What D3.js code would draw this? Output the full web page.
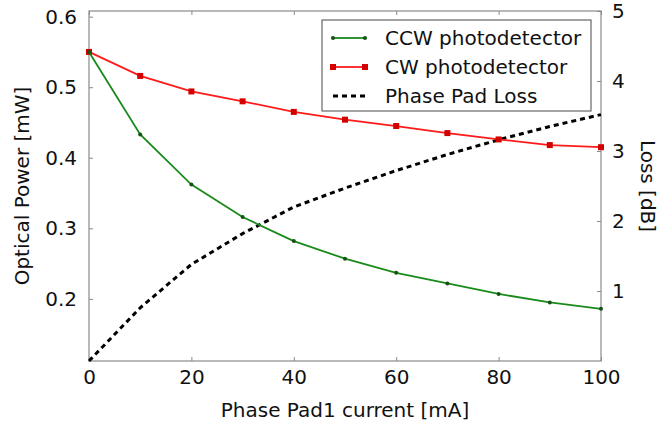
<!DOCTYPE html>
<html>
<head>
<meta charset="utf-8">
<script src="https://cdn.jsdelivr.net/npm/d3@7"></script>
<style>
  body { margin: 0; background: #fff; }
  text { font-family: "DejaVu Sans", sans-serif; fill: #111; }
</style>
</head>
<body>
<svg id="chart" width="670" height="425"></svg>
<script>
const currents = [0, 10, 20, 30, 40, 50, 60, 70, 80, 90, 100];
const ccwPower = [0.550, 0.433, 0.362, 0.316, 0.282, 0.257, 0.237, 0.222, 0.207, 0.195, 0.186];
const cwPower  = [0.550, 0.516, 0.494, 0.480, 0.465, 0.454, 0.445, 0.435, 0.426, 0.418, 0.415];
const padLoss  = [0.00, 0.76, 1.38, 1.82, 2.20, 2.47, 2.72, 2.95, 3.16, 3.35, 3.52];
const xTicks = [0, 20, 40, 60, 80, 100];
const yLeftTicks = [0.2, 0.3, 0.4, 0.5, 0.6];
const yRightTicks = [1, 2, 3, 4, 5];
const legendLabels = ["CCW photodetector", "CW photodetector", "Phase Pad Loss"];

const svg = d3.select("#chart");
const L = 89, R = 601, T = 11, B = 361;
const x = d3.scaleLinear().domain([0, 100]).range([L, R]);
const yL = d3.scaleLinear().domain([0.112, 0.608]).range([B, T]);
const yR = d3.scaleLinear().domain([0, 5]).range([B, T]);
const frameColor = "#8a8a8a";
const fs = 20;

// axes (ticks inward)
const gB = svg.append("g").attr("transform", `translate(0,${B})`)
  .call(d3.axisBottom(x).tickValues(xTicks).tickSizeInner(-4).tickSizeOuter(0).tickPadding(9).tickFormat(d3.format("d")));
const gT = svg.append("g").attr("transform", `translate(0,${T})`)
  .call(d3.axisTop(x).tickValues(xTicks).tickSizeInner(-4).tickSizeOuter(0).tickFormat(""));
const gL = svg.append("g").attr("transform", `translate(${L},0)`)
  .call(d3.axisLeft(yL).tickValues(yLeftTicks).tickSizeInner(-4).tickSizeOuter(0).tickPadding(12).tickFormat(d3.format(".1f")));
const gR = svg.append("g").attr("transform", `translate(${R},0)`)
  .call(d3.axisRight(yR).tickValues(yRightTicks).tickSizeInner(-4).tickSizeOuter(0).tickPadding(11).tickFormat(d3.format("d")));
[gB, gT, gL, gR].forEach(g => {
  g.select(".domain").remove();
  g.selectAll(".tick line").attr("stroke", frameColor);
  g.selectAll(".tick text").attr("font-size", fs).attr("font-family", "DejaVu Sans").attr("fill", "#111");
});
gB.selectAll(".tick text").attr("dy", "0.72em");

// frame
svg.append("rect").attr("x", L).attr("y", T).attr("width", R - L).attr("height", B - T)
  .attr("fill", "none").attr("stroke", frameColor).attr("stroke-width", 1.2);

// lines
const lineL = d3.line().x((d, i) => x(currents[i])).y(d => yL(d));
const lineR = d3.line().x((d, i) => x(currents[i])).y(d => yR(d));

svg.append("path").datum(padLoss).attr("d", lineR)
  .attr("fill", "none").attr("stroke", "#000").attr("stroke-width", 3).attr("stroke-dasharray", "5,4");

svg.append("path").datum(cwPower).attr("d", lineL)
  .attr("fill", "none").attr("stroke", "#ff1a1a").attr("stroke-width", 1.8);
svg.selectAll(".cwm").data(cwPower).enter().append("rect")
  .attr("x", (d, i) => x(currents[i]) - 3).attr("y", d => yL(d) - 3)
  .attr("width", 6).attr("height", 6).attr("fill", "#d40000");

svg.append("path").datum(ccwPower).attr("d", lineL)
  .attr("fill", "none").attr("stroke", "#1a8a1a").attr("stroke-width", 1.8);
svg.selectAll(".ccwm").data(ccwPower).enter().append("circle")
  .attr("cx", (d, i) => x(currents[i])).attr("cy", d => yL(d))
  .attr("r", 2).attr("fill", "#145214");

// axis labels
svg.append("text").attr("x", (L + R) / 2).attr("y", 417).attr("text-anchor", "middle")
  .attr("font-size", fs).text("Phase Pad1 current [mA]");
svg.append("text").attr("transform", `translate(29,${(T + B) / 2}) rotate(-90)`)
  .attr("text-anchor", "middle").attr("font-size", fs).text("Optical Power [mW]");
svg.append("text").attr("transform", `translate(641,${(T + B) / 2}) rotate(90)`)
  .attr("text-anchor", "middle").attr("font-size", fs).text("Loss [dB]");

// legend
const lg = svg.append("g");
lg.append("rect").attr("x", 322).attr("y", 20).attr("width", 269).attr("height", 91)
  .attr("fill", "#fff").attr("stroke", "#666").attr("stroke-width", 1.2);
const rows = [38, 67, 96];
const styles = [
  {stroke: "#1a8a1a", dash: null, w: 1.8, marker: "dot"},
  {stroke: "#ff1a1a", dash: null, w: 1.8, marker: "sq"},
  {stroke: "#000", dash: "5,4", w: 3, marker: null}
];
legendLabels.forEach((lab, i) => {
  const s = styles[i], y = rows[i];
  lg.append("line").attr("x1", 333).attr("x2", 365).attr("y1", y).attr("y2", y)
    .attr("stroke", s.stroke).attr("stroke-width", s.w).attr("stroke-dasharray", s.dash);
  if (s.marker === "dot") {
    [333, 365].forEach(cx => lg.append("circle").attr("cx", cx).attr("cy", y).attr("r", 2).attr("fill", "#145214"));
  } else if (s.marker === "sq") {
    [333, 365].forEach(cx => lg.append("rect").attr("x", cx - 3).attr("y", y - 3).attr("width", 6).attr("height", 6).attr("fill", "#d40000"));
  }
  lg.append("text").attr("x", 385).attr("y", y).attr("dy", "0.35em").attr("font-size", fs).text(lab);
});
</script>
</body>
</html>
